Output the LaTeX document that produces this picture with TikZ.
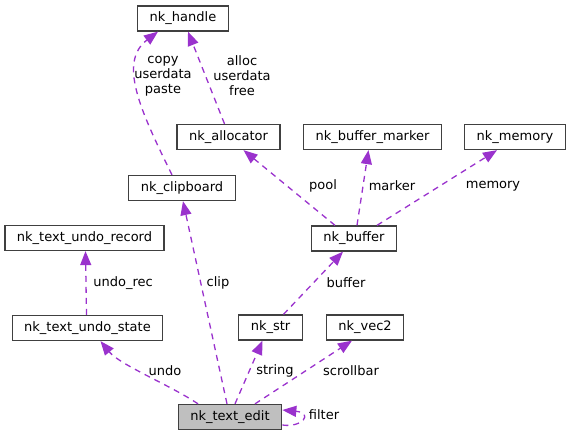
\documentclass[tikz,border=0pt]{standalone}
\usepackage{fontspec}
\setmainfont{DejaVu Sans}
\usetikzlibrary{arrows.meta}
\definecolor{edgecol}{HTML}{9A32CD}
\begin{document}
\begin{tikzpicture}[x=1pt,y=-1pt,
    every node/.style={font=\fontsize{13}{15}\selectfont},
    cls/.style={draw=black!75,fill=white,line width=1.3pt,minimum height=25pt,inner xsep=12pt,inner ysep=0pt},
    root/.style={cls,fill=black!25},
    use/.style={draw=edgecol,line width=1.3pt,dash pattern=on 6pt off 5pt,-{Triangle[length=14pt,width=11pt,fill=edgecol]}},
    lbl/.style={inner sep=0pt,align=center}]
        \useasboundingbox (0,0) rectangle (571,436);
        \node[cls] (handle) at (183,18.5) {nk\_handle};
        \node[cls] (allocator) at (228.5,137) {nk\_allocator};
        \node[cls] (bufmarker) at (372.5,137) {nk\_buffer\_marker};
        \node[cls] (memory) at (515,137) {nk\_memory};
        \node[cls] (clipboard) at (182,188) {nk\_clipboard};
        \node[cls] (undorecord) at (84.5,238) {nk\_text\_undo\_record};
        \node[cls] (buffer) at (354,238.5) {nk\_buffer};
        \node[cls] (undostate) at (87.5,328) {nk\_text\_undo\_state};
        \node[cls] (str) at (270.5,327.5) {nk\_str};
        \node[cls] (vec2) at (365,327.5) {nk\_vec2};
        \node[root] (textedit) at (230,417) {nk\_text\_edit};
        % edge labels
        \node[lbl] (l_clip3) at (163,76) {copy\\userdata\\paste};
        \node[lbl] (l_alloc3) at (242,76) {alloc\\userdata\\free};
        \node[lbl] (l_pool) at (323,186) {pool};
        \node[lbl] (l_marker) at (392,186) {marker};
        \node[lbl] (l_memory) at (493,186) {memory};
        \node[lbl] (l_undorec) at (123,283) {undo\_rec};
        \node[lbl] (l_clip) at (218,283) {clip};
        \node[lbl] (l_buffer) at (346,283) {buffer};
        \node[lbl] (l_undo) at (165,371) {undo};
        \node[lbl] (l_string) at (275,371) {string};
        \node[lbl] (l_scroll) at (351,371) {scrollbar};
        \node[lbl] (l_filter) at (324,415) {filter};
        % edges
        \draw[use] ([xshift=-32pt]textedit.north) .. controls (170,385) and (120,365) .. ([xshift=13pt]undostate.south);
        \draw[use] ([xshift=-3pt]textedit.north) -- ([xshift=1pt]clipboard.south);
        \draw[use] ([xshift=5pt]textedit.north) -- ([xshift=-8pt]str.south);
        \draw[use] ([xshift=25pt]textedit.north) -- ([xshift=-13pt]vec2.south);
        \draw[use] ([yshift=-8pt]textedit.east) .. controls (302,428) and (314,413) .. ([yshift=7pt]textedit.east);
        \draw[use] ([xshift=-1pt]undostate.north) -- ([xshift=1pt]undorecord.south);
        \draw[use] ([xshift=13pt]str.north) -- ([xshift=-11pt]buffer.south);
        \draw[use] ([xshift=-19pt]buffer.north) -- ([xshift=15pt]allocator.south);
        \draw[use] ([xshift=3pt]buffer.north) -- ([xshift=-4pt]bufmarker.south);
        \draw[use] ([xshift=23pt]buffer.north) -- ([xshift=-18pt]memory.south);
        \draw[use] ([xshift=-10pt]clipboard.north) .. controls (140,110) and (118,62) .. ([xshift=-25pt]handle.south);
        \draw[use] ([xshift=-4pt]allocator.north) -- ([xshift=5pt]handle.south);
      \end{tikzpicture}
\end{document}
